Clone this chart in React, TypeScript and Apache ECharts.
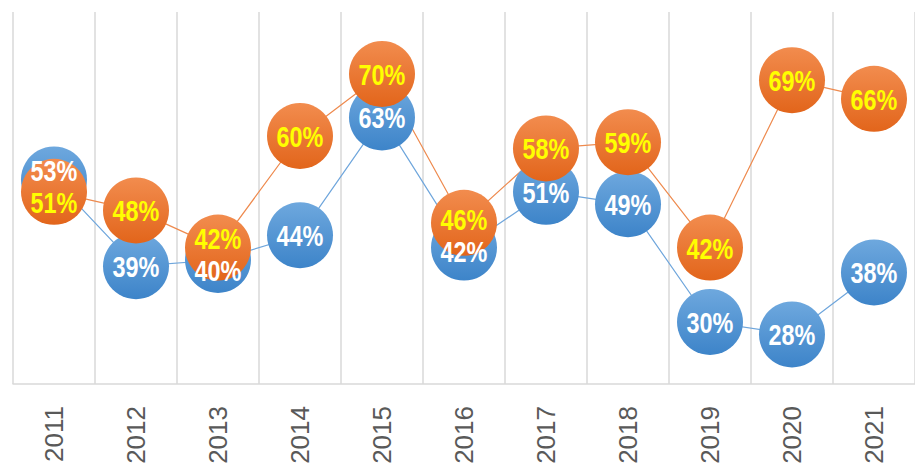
import React, { useEffect, useRef } from "react";
import * as echarts from "echarts";

const years = ["2011", "2012", "2013", "2014", "2015", "2016", "2017", "2018", "2019", "2020", "2021"];
const blueValues = [53, 39, 40, 44, 63, 42, 51, 49, 30, 28, 38];
const orangeValues = [51, 48, 42, 60, 70, 46, 58, 59, 42, 69, 66];

export default function App() {
  const ref = useRef<HTMLDivElement>(null);
  useEffect(() => {
    if (!ref.current) return;
    const chart = echarts.init(ref.current, null, { renderer: "svg" });
    const labelFont = '"Liberation Sans", Arial, sans-serif';
    const minGap = 32;

    const labelSeries = (values: number[], others: number[], color: string) => ({
      type: "custom",
      z: 10,
      silent: true,
      data: values.map((v, i) => [i, v]),
      renderItem: (params: any, api: any) => {
        const i = api.value(0);
        const pt = api.coord([i, api.value(1)]);
        const other = api.coord([i, others[params.dataIndex]]);
        let y = pt[1];
        const d = pt[1] - other[1];
        if (Math.abs(d) < minGap) {
          const push = (minGap - Math.abs(d)) / 2;
          y += d >= 0 ? push : -push;
        }
        return {
          type: "text",
          x: pt[0],
          y: y + 1,
          scaleX: 0.78,
          style: {
            text: api.value(1) + "%",
            x: 0,
            y: 0,
            align: "center",
            verticalAlign: "middle",
            fill: color,
            font: "bold 30px " + labelFont,
          },
        };
      },
    });

    chart.setOption({
      animation: false,
      grid: { left: 13, top: 12, width: 902, bottom: 88, containLabel: false },
      xAxis: {
        type: "category",
        data: years,
        boundaryGap: true,
        axisLine: { lineStyle: { color: "#d9d9d9", width: 1.5 } },
        axisTick: { show: false },
        splitLine: { show: true, lineStyle: { color: "#d9d9d9", width: 1.5 } },
        axisLabel: {
          rotate: 90,
          margin: 22,
          color: "#595959",
          fontSize: 26,
          fontFamily: '"Liberation Sans", Arial, sans-serif',
        },
      },
      yAxis: {
        type: "value",
        min: 20,
        max: 80,
        show: false,
        splitLine: { show: false },
      },
      series: [
        {
          type: "line",
          data: blueValues,
          symbol: "circle",
          symbolSize: 66,
          lineStyle: { color: "#6fa6dc", width: 1.2 },
          itemStyle: {
            color: new echarts.graphic.LinearGradient(0, 0, 0, 1, [
              { offset: 0, color: "#6ea8de" },
              { offset: 1, color: "#3d84c9" },
            ]),
          },
          label: { show: false },
        },
        {
          type: "line",
          data: orangeValues,
          symbol: "circle",
          symbolSize: 66,
          lineStyle: { color: "#ee8a4e", width: 1.2 },
          itemStyle: {
            color: new echarts.graphic.LinearGradient(0, 0, 0, 1, [
              { offset: 0, color: "#f28c4e" },
              { offset: 1, color: "#e2651b" },
            ]),
          },
          label: { show: false },
        },
        labelSeries(blueValues, orangeValues, "#ffffff"),
        labelSeries(orangeValues, blueValues, "#ffff00"),
      ],
    });
    return () => chart.dispose();
  }, []);
  return (
    <div
      ref={ref}
      style={{ position: "fixed", left: 0, top: 0, width: 915, height: 472, background: "#ffffff" }}
    />
  );
}
